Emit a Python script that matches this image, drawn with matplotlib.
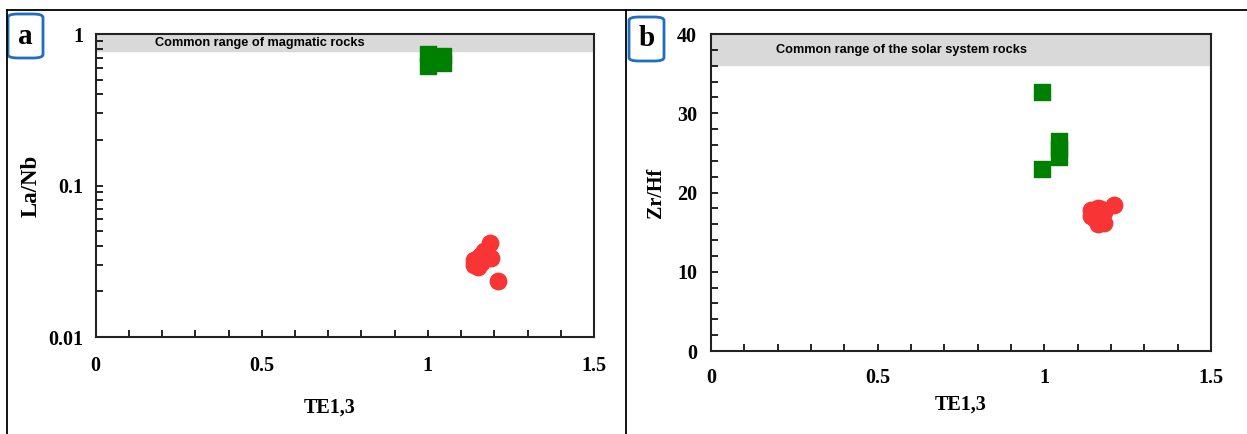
import numpy as np
import matplotlib.pyplot as plt
from matplotlib.patches import FancyBboxPatch
from matplotlib.lines import Line2D
from matplotlib.ticker import MultipleLocator, LogLocator, FixedLocator, FixedFormatter

# panel a: La/Nb vs TE1,3
a_green_x = [1.0, 1.0, 1.045, 1.045]
a_green_y = [0.615, 0.738, 0.643, 0.716]
a_red_x = [1.14, 1.15, 1.16, 1.17, 1.18, 1.16, 1.15, 1.14, 1.19, 1.187, 1.211]
a_red_y = [0.030, 0.033, 0.035, 0.037, 0.033, 0.031, 0.029, 0.032, 0.033, 0.0417, 0.0234]

# panel b: Zr/Hf vs TE1,3
b_green_x = [0.993, 1.044, 1.044, 1.044, 0.993]
b_green_y = [32.7, 26.5, 25.5, 24.5, 23.0]
b_red_x = [1.14, 1.15, 1.16, 1.17, 1.16, 1.18, 1.18, 1.15, 1.21, 1.17, 1.14]
b_red_y = [17.8, 17.2, 18.0, 16.5, 16.0, 16.2, 17.5, 16.8, 18.4, 17.9, 17.0]

a_band = (0.77, 1.0)
b_band = (36.1, 40.0)

green = '#008000'
red = '#f83434'
band = '#d9d9d9'
serif = ['Liberation Serif', 'DejaVu Serif']
sans = ['Liberation Sans', 'DejaVu Sans']

fig = plt.figure(figsize=(12.47, 4.34), dpi=100)

axa = fig.add_axes([0.0767, 0.2235, 0.3996, 0.698])
axb = fig.add_axes([0.5702, 0.1912, 0.401, 0.7304])

for ax in (axa, axb):
    ax.set_xlim(0, 1.5)
    ax.xaxis.set_major_locator(FixedLocator([0, 0.5, 1, 1.5]))
    ax.xaxis.set_major_formatter(FixedFormatter(['0', '0.5', '1', '1.5']))
    ax.xaxis.set_minor_locator(MultipleLocator(0.1))
    ax.tick_params(which='both', direction='in', top=False, right=False,
                   length=5, width=1.2)
    for s in ax.spines.values():
        s.set_linewidth(1.5)
        s.set_color('#222222')

# a
axa.set_yscale('log')
axa.set_ylim(0.01, 1)
axa.yaxis.set_major_locator(FixedLocator([0.01, 0.1, 1]))
axa.yaxis.set_major_formatter(FixedFormatter(['0.01', '0.1', '1']))
axa.yaxis.set_minor_locator(LogLocator(base=10, subs=np.arange(2, 10)))
axa.yaxis.set_minor_formatter(FixedFormatter([]))
axa.tick_params(axis='x', pad=14)
axa.tick_params(axis='y', pad=9)
axa.axhspan(a_band[0], a_band[1], color=band, zorder=0)
axa.text(0.18, 0.875, 'Common range of magmatic rocks', fontsize=9.2,
         fontweight='bold', family=sans, va='center')
axa.scatter(a_green_x, a_green_y, marker='s', s=140, color=green, zorder=3)
axa.scatter(a_red_x, a_red_y, marker='o', s=140, color=red, zorder=3)
axa.set_xlabel('TE1,3', fontsize=14.5, fontweight='bold', family=serif)
axa.xaxis.set_label_coords(0.47, -0.2)
axa.set_ylabel('La/Nb', fontsize=16.5, fontweight='bold', family=serif)
axa.yaxis.set_label_coords(-0.108, 0.5)

# b
axb.set_ylim(0, 40)
axb.yaxis.set_major_locator(MultipleLocator(10))
axb.yaxis.set_minor_locator(MultipleLocator(2))
axb.tick_params(axis='x', pad=12)
axb.tick_params(axis='y', pad=10)
axb.axhspan(b_band[0], b_band[1], color=band, zorder=0)
axb.text(0.195, 38.0, 'Common range of the solar system rocks', fontsize=9.2,
         fontweight='bold', family=sans, va='center')
axb.scatter(b_green_x, b_green_y, marker='s', s=140, color=green, zorder=3)
axb.scatter(b_red_x, b_red_y, marker='o', s=140, color=red, zorder=3)
axb.set_xlabel('TE1,3', fontsize=14.5, fontweight='bold', family=serif, labelpad=5)
axb.set_ylabel('Zr/Hf', fontsize=14.5, fontweight='bold', family=serif)
axb.yaxis.set_label_coords(-0.09, 0.5)

for ax in (axa, axb):
    for lab in ax.get_xticklabels() + ax.get_yticklabels():
        lab.set_family(serif)
        lab.set_weight('bold')
        lab.set_fontsize(14.5)

# panel frame lines
fig.add_artist(Line2D([7 / 1247, 1], [1 - 10 / 434, 1 - 10 / 434], color='black', lw=1.3))
fig.add_artist(Line2D([7 / 1247, 7 / 1247], [0, 1 - 10 / 434], color='black', lw=1.3))
fig.add_artist(Line2D([626 / 1247, 626 / 1247], [0, 1 - 10 / 434], color='black', lw=1.3))

# panel letters
for (x0, y0, letter) in [(8, 14, 'a'), (629, 17, 'b')]:
    w, h = 35, 44
    box = FancyBboxPatch((x0 / 1247, 1 - (y0 + h) / 434), w / 1247, h / 434,
                         boxstyle='round,pad=0,rounding_size=0.008',
                         transform=fig.transFigure, fill=False,
                         edgecolor='#1f6fc0', lw=2)
    fig.add_artist(box)
    fig.text((x0 + w / 2) / 1247, 1 - (y0 + h / 2) / 434, letter, fontsize=21,
             fontweight='bold', family=serif, ha='center', va='center')

fig.savefig('out.png', dpi=100)
